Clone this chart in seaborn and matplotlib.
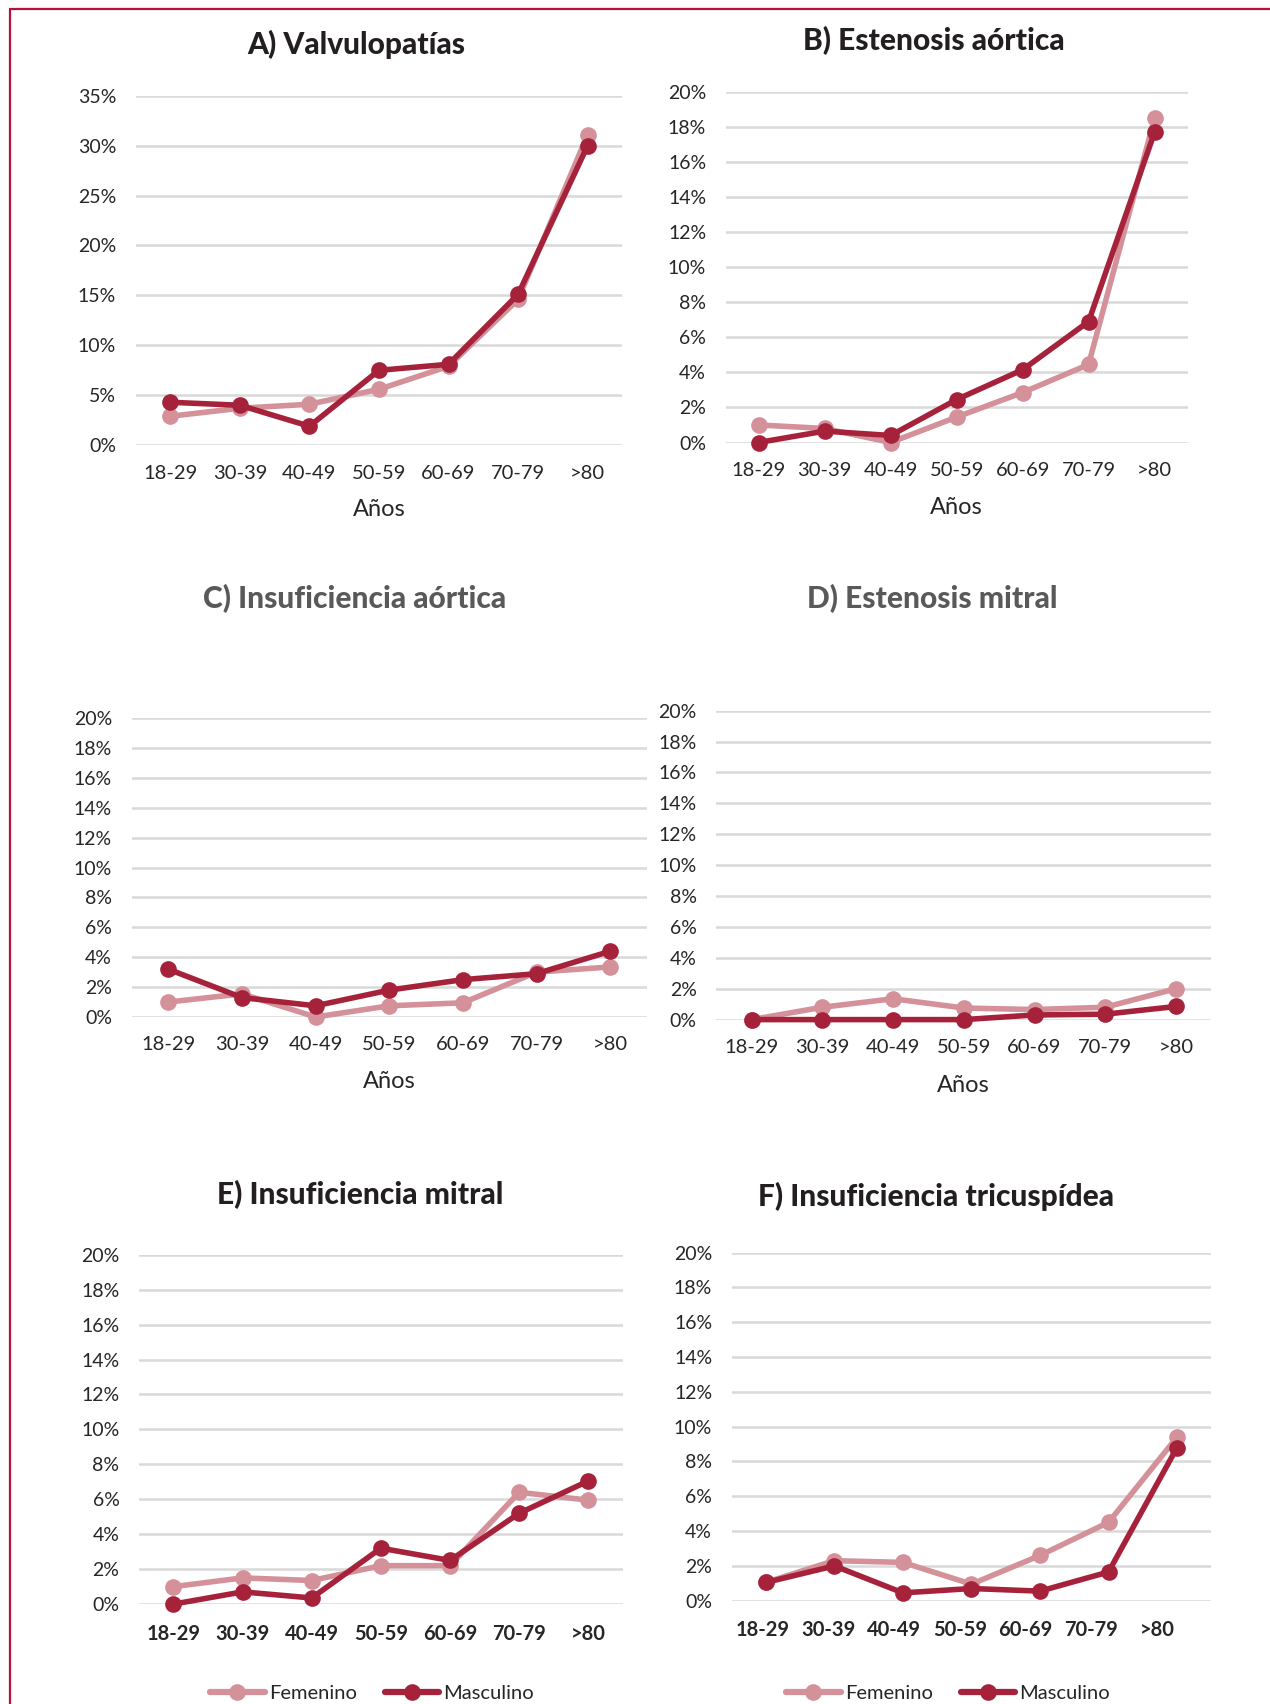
import numpy as np
import pandas as pd
import matplotlib
matplotlib.use("Agg")
import matplotlib.pyplot as plt
import seaborn as sns
from matplotlib.lines import Line2D
from matplotlib.ticker import FuncFormatter

sns.set_style("white")
plt.rcParams["font.family"] = ["Lato", "DejaVu Sans"]

# --- datos (%) ---
grupos = ["18-29", "30-39", "40-49", "50-59", "60-69", "70-79", ">80"]

valv_fem = [2.9, 3.7, 4.1, 5.6, 7.9, 14.6, 31.1]
valv_masc = [4.3, 4.0, 1.9, 7.5, 8.1, 15.1, 30.0]

ea_fem = [1.0, 0.8, 0.0, 1.45, 2.85, 4.45, 18.5]
ea_masc = [0.0, 0.65, 0.4, 2.45, 4.15, 6.9, 17.7]

ia_fem = [1.0, 1.55, 0.0, 0.75, 0.95, 3.0, 3.35]
ia_masc = [3.2, 1.3, 0.75, 1.8, 2.5, 2.9, 4.4]

em_fem = [0.0, 0.8, 1.35, 0.75, 0.65, 0.8, 2.0]
em_masc = [0.0, 0.0, 0.0, 0.0, 0.3, 0.35, 0.85]

im_fem = [1.0, 1.5, 1.35, 2.2, 2.2, 6.4, 5.95]
im_masc = [0.0, 0.7, 0.35, 3.2, 2.5, 5.2, 7.05]

it_fem = [1.05, 2.3, 2.2, 0.95, 2.6, 4.5, 9.4]
it_masc = [1.05, 2.0, 0.45, 0.7, 0.55, 1.65, 8.8]

titulos = ["A) Valvulopatías", "B) Estenosis aórtica", "C) Insuficiencia aórtica",
           "D) Estenosis mitral", "E) Insuficiencia mitral", "F) Insuficiencia tricuspídea"]
series = [(valv_fem, valv_masc), (ea_fem, ea_masc), (ia_fem, ia_masc),
          (em_fem, em_masc), (im_fem, im_masc), (it_fem, it_masc)]

C_FEM = "#d4919a"
C_MASC = "#a6223b"
C_GRID = "#d9d9d9"
C_TXT = "#262626"

W, H = 1270, 1704
fig = plt.figure(figsize=(W / 100, H / 100), dpi=100)

# cajas de los ejes en pixeles: x0, x1, y_top, y_bottom
cajas = [
    (135.5, 622.4, 95.7, 445.2),
    (725.6, 1187.6, 91.9, 442.5),
    (131.5, 647.0, 718.2, 1017.0),
    (716.3, 1211.3, 710.7, 1019.6),
    (138.9, 622.9, 1254.7, 1604.1),
    (731.6, 1211.3, 1252.6, 1600.7),
]
ymax = [35, 20, 20, 20, 20, 20]
ypaso = [5, 2, 2, 2, 2, 2]
titulo_pos = [(356, 44.8), (934, 40.6), (354.6, 598.6), (932, 598.6), (359.8, 1194.7), (936, 1196.4)]
titulo_col = ["#231f20", "#231f20", "#595959", "#595959", "#231f20", "#231f20"]
anos_pos = [(379.6, 509.6), (956.6, 508), (389.3, 1082), (963.4, 1085), None, None]

for i in range(6):
    x0, x1, yt, yb = cajas[i]
    ax = fig.add_axes([x0 / W, 1 - yb / H, (x1 - x0) / W, (yb - yt) / H])
    fem, masc = series[i]
    df = pd.DataFrame({
        "pos": list(range(7)) * 2,
        "valor": fem + masc,
        "Sexo": ["Femenino"] * 7 + ["Masculino"] * 7,
    })
    sns.lineplot(data=df, x="pos", y="valor", hue="Sexo",
                 palette={"Femenino": C_FEM, "Masculino": C_MASC},
                 marker="o", markersize=12, markeredgewidth=0, linewidth=4,
                 legend=False, ax=ax, clip_on=False, zorder=3)
    ax.set_xlim(-0.5, 6.5)
    ax.set_ylim(0, ymax[i])
    ax.set_yticks(np.arange(0, ymax[i] + 0.01, ypaso[i]))
    ax.yaxis.set_major_formatter(FuncFormatter(lambda v, p: f"{v:.0f}%"))
    if i == 5:
        # en el original las etiquetas de F estan algo desplazadas a la izquierda
        ax.set_xticks(np.linspace(-0.05, 5.71, 7))
    else:
        ax.set_xticks(range(7))
    ax.set_xticklabels(grupos)
    ax.grid(axis="y", color=C_GRID, linewidth=1.8)
    ax.set_axisbelow(True)
    for s in ax.spines.values():
        s.set_visible(False)
    ax.set_xlabel("")
    ax.set_ylabel("")
    ax.tick_params(axis="y", length=0, pad=14, labelsize=14, labelcolor=C_TXT)
    ax.tick_params(axis="x", length=0, pad=14, labelsize=14.5, labelcolor=C_TXT)
    if i >= 4:
        for t in ax.get_xticklabels():
            t.set_fontweight("bold")

    tx, ty = titulo_pos[i]
    fig.text(tx / W, 1 - ty / H, titulos[i], ha="center", va="center",
             fontsize=21.5, fontweight=900, color=titulo_col[i])
    if anos_pos[i] is not None:
        axx, axy = anos_pos[i]
        fig.text(axx / W, 1 - axy / H, "Años", ha="center", va="center",
                 fontsize=17, color=C_TXT)

# leyendas
handles = [
    Line2D([], [], color=C_FEM, marker="o", markersize=12, markeredgewidth=0, linewidth=4.5),
    Line2D([], [], color=C_MASC, marker="o", markersize=12, markeredgewidth=0, linewidth=4.5),
]
for cx in [372, 948]:
    fig.legend(handles, ["Femenino", "Masculino"], loc="center",
               bbox_to_anchor=(cx / W, 1 - 1693 / H), ncol=2, frameon=False,
               fontsize=14.5, handlelength=2.7, handletextpad=0.2, columnspacing=1.4,
               labelcolor=C_TXT)

# marco
fig.add_artist(Line2D([10 / W, 10 / W], [0, 1 - 9 / H], color="#b5123f", linewidth=1.6))
fig.add_artist(Line2D([10 / W, 1], [1 - 9 / H, 1 - 9 / H], color="#b5123f", linewidth=1.6))

fig.savefig("out.png", dpi=100)
